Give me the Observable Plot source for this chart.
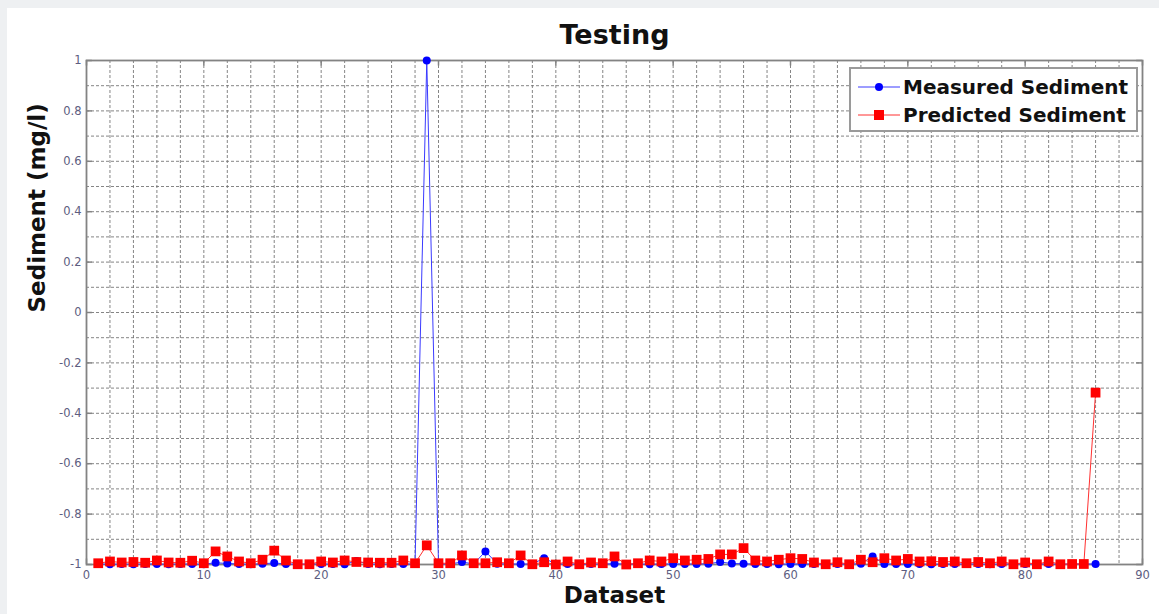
<!DOCTYPE html>
<html><head><meta charset="utf-8">
<script src="https://cdn.jsdelivr.net/npm/d3@7"></script>
<script src="https://cdn.jsdelivr.net/npm/@observablehq/plot@0.6"></script>
<style>
body{margin:0;background:#eef0f2;width:1159px;height:614px;overflow:hidden;position:relative;font-family:"DejaVu Sans",sans-serif}
#card{position:absolute;left:7px;top:8px;width:1152px;height:606px;background:#fff}
#legend{position:absolute;left:842px;top:59px;width:289px;height:65px;box-sizing:border-box;border:2px solid #9a9a9a;background:#fff}
.row{position:absolute;left:7px;height:26px;display:flex;align-items:center}
.row span{font-weight:bold;font-size:20px;color:#111;margin-left:3px;white-space:nowrap}
</style></head>
<body><div id="card"></div>
<script>
const titleText = "Testing";
const xLabelText = "Dataset";
const yLabelText = "Sediment (mg/l)";
const seriesNames = ["Measured Sediment", "Predicted Sediment"];
const xTicks = [0, 10, 20, 30, 40, 50, 60, 70, 80, 90];
const yTicks = [-1, -0.8, -0.6, -0.4, -0.2, 0, 0.2, 0.4, 0.6, 0.8, 1];
const xGrid = [2,4,6,8,10,12,14,16,18,20,22,24,26,28,30,32,34,36,38,40,42,44,46,48,50,52,54,56,58,60,62,64,66,68,70,72,74,76,78,80,82,84,86,88];
const yGrid = [-0.9,-0.8,-0.7,-0.6,-0.5,-0.4,-0.3,-0.2,-0.1,0,0.1,0.2,0.3,0.4,0.5,0.6,0.7,0.8,0.9];

const dataset = [1,2,3,4,5,6,7,8,9,10,11,12,13,14,15,16,17,18,19,20,21,22,23,24,25,26,27,28,29,30,31,32,33,34,35,36,37,38,39,40,41,42,43,44,45,46,47,48,49,50,51,52,53,54,55,56,57,58,59,60,61,62,63,64,65,66,67,68,69,70,71,72,73,74,75,76,77,78,79,80,81,82,83,84,85,86];
const measured = [
 -0.998,-0.999,-0.998,-0.999,-0.998,-0.998,-0.999,-0.998,-0.998,-0.999,
 -0.993,-0.996,-0.998,-0.999,-0.997,-0.994,-0.998,-0.999,-0.998,-0.998,
 -0.998,-0.999,-0.986,-0.998,-0.999,-0.998,-0.998,-0.998,1.0,-0.998,
 -0.998,-0.990,-0.998,-0.948,-0.997,-0.998,-0.998,-0.998,-0.975,-0.998,
 -0.998,-0.999,-0.998,-0.998,-0.997,-0.998,-0.998,-0.999,-0.998,-0.998,
 -0.998,-0.998,-0.997,-0.990,-0.996,-0.997,-0.998,-0.998,-0.999,-0.998,
 -0.998,-0.998,-0.999,-0.998,-0.998,-0.997,-0.968,-0.998,-0.998,-0.998,
 -0.998,-0.999,-0.998,-0.998,-0.998,-0.998,-0.999,-0.998,-0.998,-0.998,
 -0.998,-0.998,-0.999,-0.998,-0.998,-0.998];
const predicted = [
 -0.995,-0.988,-0.992,-0.990,-0.993,-0.984,-0.992,-0.993,-0.985,-0.995,
 -0.948,-0.968,-0.988,-0.995,-0.981,-0.945,-0.984,-0.999,-0.999,-0.988,
 -0.992,-0.984,-0.990,-0.992,-0.993,-0.993,-0.984,-0.995,-0.924,-0.995,
 -0.995,-0.964,-0.995,-0.995,-0.991,-0.995,-0.964,-0.999,-0.991,-1.000,
 -0.988,-0.999,-0.992,-0.995,-0.968,-1.000,-0.995,-0.984,-0.988,-0.975,
 -0.984,-0.981,-0.978,-0.960,-0.960,-0.935,-0.984,-0.988,-0.981,-0.975,
 -0.978,-0.992,-0.999,-0.991,-0.999,-0.981,-0.991,-0.975,-0.984,-0.978,
 -0.988,-0.987,-0.990,-0.988,-0.995,-0.990,-0.995,-0.988,-0.999,-0.992,
 -0.999,-0.988,-0.999,-0.998,-0.998,-0.318];

const rows = dataset.map((d, i) => ({x: d, m: measured[i], p: predicted[i]}));
const fmt = d => String(+d.toFixed(1));
const frameColor = "#838383";
const blue = "#0000ff", red = "#ff0000";

const plot = Plot.plot({
  width: 1152, height: 606,
  marginLeft: 79, marginRight: 17, marginTop: 52, marginBottom: 50,
  style: {fontFamily: "DejaVu Sans", fontSize: "11.5px", color: "#5d5d80", background: "#fff"},
  x: {domain: [0, 90]},
  y: {domain: [-1, 1]},
  marks: [
    Plot.gridX(xGrid, {stroke: "#707070", strokeOpacity: 0.85, strokeDasharray: "3,2"}),
    Plot.gridY(yGrid, {stroke: "#707070", strokeOpacity: 0.85, strokeDasharray: "3,2"}),
    Plot.ruleX(xTicks, {y1: -1, y2: -0.978, stroke: frameColor, strokeWidth: 1.5}),
    Plot.ruleX(xTicks, {y1: 1, y2: 0.978, stroke: frameColor, strokeWidth: 1.5}),
    Plot.ruleY(yTicks, {x1: 0, x2: 0.5, stroke: frameColor, strokeWidth: 1.5}),
    Plot.ruleY(yTicks, {x1: 90, x2: 89.5, stroke: frameColor, strokeWidth: 1.5}),
    Plot.frame({stroke: frameColor, strokeWidth: 1.8}),
    Plot.axisX(xTicks, {tickSize: 0, tickPadding: 6, tickFormat: d => String(d), label: null}),
    Plot.axisY(yTicks, {tickSize: 0, tickPadding: 5, tickFormat: fmt, label: null}),
    Plot.line(rows, {x: "x", y: "m", stroke: "#3a3aff", strokeWidth: 1}),
    Plot.dot(rows, {x: "x", y: "m", r: 4, fill: blue, stroke: "none"}),
    Plot.line(rows, {x: "x", y: "p", stroke: "#ff3030", strokeWidth: 1}),
    Plot.dot(rows, {x: "x", y: "p", r: 5.5, symbol: "square", fill: red, stroke: "none"}),
    Plot.text([titleText], {text: d => d, frameAnchor: "top", dy: -25, lineAnchor: "middle", fontSize: 27, fontWeight: "bold", fill: "#111"}),
    Plot.text([xLabelText], {text: d => d, frameAnchor: "bottom", dy: 31, lineAnchor: "middle", fontSize: 23, fontWeight: "bold", fill: "#111"}),
    Plot.text([yLabelText], {text: d => d, frameAnchor: "left", dx: -49, rotate: -90, lineAnchor: "middle", fontSize: 23, fontWeight: "bold", fill: "#111"})
  ]
});
const card = document.getElementById("card");
card.appendChild(plot);

// legend
const legend = document.createElement("div");
legend.id = "legend";
const legendStyles = [{color: "#3a3aff", fill: blue, shape: "circle"}, {color: "#ff3030", fill: red, shape: "square"}];
seriesNames.forEach((name, i) => {
  const row = document.createElement("div");
  row.className = "row";
  row.style.top = (5 + i * 28) + "px";
  const s = legendStyles[i];
  const marker = s.shape === "circle"
    ? `<circle cx="21" cy="13" r="4" fill="${s.fill}"/>`
    : `<rect x="16" y="8" width="10" height="10" fill="${s.fill}"/>`;
  row.innerHTML = `<svg width="42" height="26"><line x1="0" x2="42" y1="13" y2="13" stroke="${s.color}" stroke-width="1"/>${marker}</svg><span>${name}</span>`;
  legend.appendChild(row);
});
card.appendChild(legend);
</script>
</body></html>
